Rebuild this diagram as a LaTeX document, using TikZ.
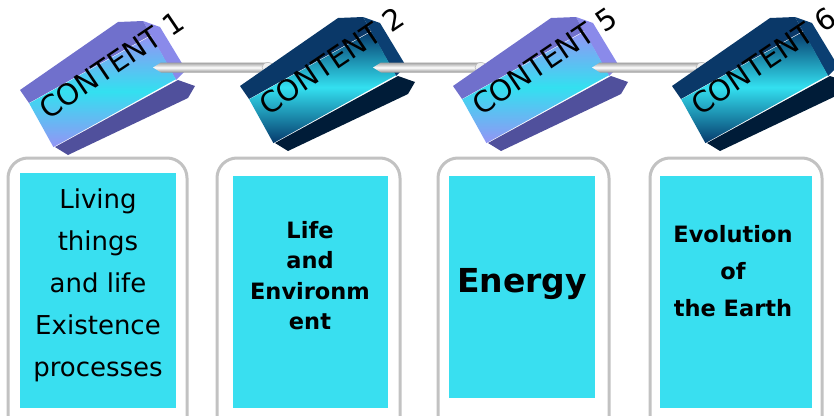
\documentclass[tikz,border=0pt]{standalone}
\usepackage{fontspec}
\setmainfont{DejaVu Sans}
\definecolor{boxcyan}{HTML}{39DFF0}
\definecolor{framegray}{HTML}{C2C2C2}
\definecolor{facecyan}{HTML}{33E0F0}
\definecolor{lavedge}{HTML}{9494F5}
\definecolor{lavtop}{HTML}{7070CC}
\definecolor{lavshadow}{HTML}{50509C}
\definecolor{lavend}{HTML}{8A8AEA}
\definecolor{navyedge}{HTML}{063A6C}
\definecolor{navytop}{HTML}{0A3868}
\definecolor{navyshadow}{HTML}{001C38}
\definecolor{navyend}{HTML}{0B3F72}
\tikzset{
  frame/.style={draw=framegray, line width=3pt, rounded corners=20pt},
  cyanbox/.style={fill=boxcyan, draw=none},
  face/.style={rotate=29, minimum width=140pt, minimum height=50pt, inner sep=0pt, draw=none},
  cubetext/.style={rotate=34, anchor=base, inner sep=0pt, font=\fontsize{29}{32}\selectfont, text=black},
  rodshade/.style={top color=gray!75, bottom color=gray!85, middle color=white},
  rodcap/.style={fill=gray!12, draw=gray!55, line width=0.6pt},
  plain/.style={align=center, font=\fontsize{26}{42}\selectfont, inner sep=0pt},
  boldsmall/.style={align=center, font=\bfseries\fontsize{22.5}{30.5}\selectfont, inner sep=0pt},
  boldmid/.style={align=center, font=\bfseries\fontsize{22.5}{37}\selectfont, inner sep=0pt},
  boldbig/.style={anchor=base, font=\bfseries\fontsize{33}{36}\selectfont, inner sep=0pt}
}
\newcommand\contentcube[8]{%
  \begin{scope}[shift={(#2,-#3)}]
    \fill[#6] (55,-147) -- (178,-80) -- (195,-86) -- (188,-98) -- (68,-155) -- cycle;
    \fill[#7] (151,-35) -- (143,-21) -- (160,-27) -- (186,-70) -- (176,-80) -- cycle;
    \fill[#4] (29,-103) -- (20,-90) -- (118,-22) -- (143,-21) -- (151,-35) -- cycle;
    \node[face, top color=#5, bottom color=#5, middle color=facecyan] (#1f) at (102.5,-91.3) {};
    \node[cubetext] (#1t) at (117.6,-74) {#8};
  \end{scope}}
\newcommand\rodlink[3]{%
  \coordinate (#1a) at (#2,-67.5);
  \coordinate (#1b) at (#3,-67.5);
  \shade[rodshade] (#1a) -- ([shift={(8,5)}]#1a) -- ([shift={(0,5)}]#1b)
     -- ([shift={(0,-5)}]#1b) -- ([shift={(8,-5)}]#1a) -- cycle;
  \draw[rodcap] (#1b) ellipse (6 and 5);}
\begin{document}
\begin{tikzpicture}[x=1pt,y=1pt]
\useasboundingbox (0,0) rectangle (834,-415);
\clip (0,0) rectangle (834,-415);
% frames
\draw[frame] (8,-158) rectangle (187,-445);
\draw[frame] (217,-158) rectangle (400,-445);
\draw[frame] (438,-158) rectangle (609,-445);
\draw[frame] (650,-158) rectangle (822,-445);
% cyan panels
\node[cyanbox, minimum width=156pt, minimum height=235pt, inner sep=0pt] (p1) at (98,-290.5) {};
\node[cyanbox, minimum width=155pt, minimum height=232pt, inner sep=0pt] (p2) at (310.5,-292) {};
\node[cyanbox, minimum width=146pt, minimum height=222pt, inner sep=0pt] (p3) at (522,-287) {};
\node[cyanbox, minimum width=152pt, minimum height=232pt, inner sep=0pt] (p4) at (736,-292) {};
% texts
\node[plain] (t1) at (98,-285) {Living\\things\\and life\\Existence\\processes};
\node[boldsmall] (t2) at (310,-275.5) {Life\\and\\Environm\\ent};
\node[boldbig] (t3) at (522,-292) {Energy};
\node[boldmid] (t4) at (733,-271.5) {Evolution\\of\\the Earth};
% cubes and rods
\contentcube{c1}{0}{0}{lavtop}{lavedge}{lavshadow}{lavend}{CONTENT 1}
\rodlink{r1}{153}{268}
\contentcube{c2}{220}{-4}{navytop}{navyedge}{navyshadow}{navyend}{CONTENT 2}
\rodlink{r2}{373}{481}
\contentcube{c5}{433}{-4}{lavtop}{lavedge}{lavshadow}{lavend}{CONTENT 5}
\rodlink{r3}{592}{702}
\contentcube{c6}{652}{-4}{navytop}{navyedge}{navyshadow}{navyend}{CONTENT 6}
\end{tikzpicture}
\end{document}
